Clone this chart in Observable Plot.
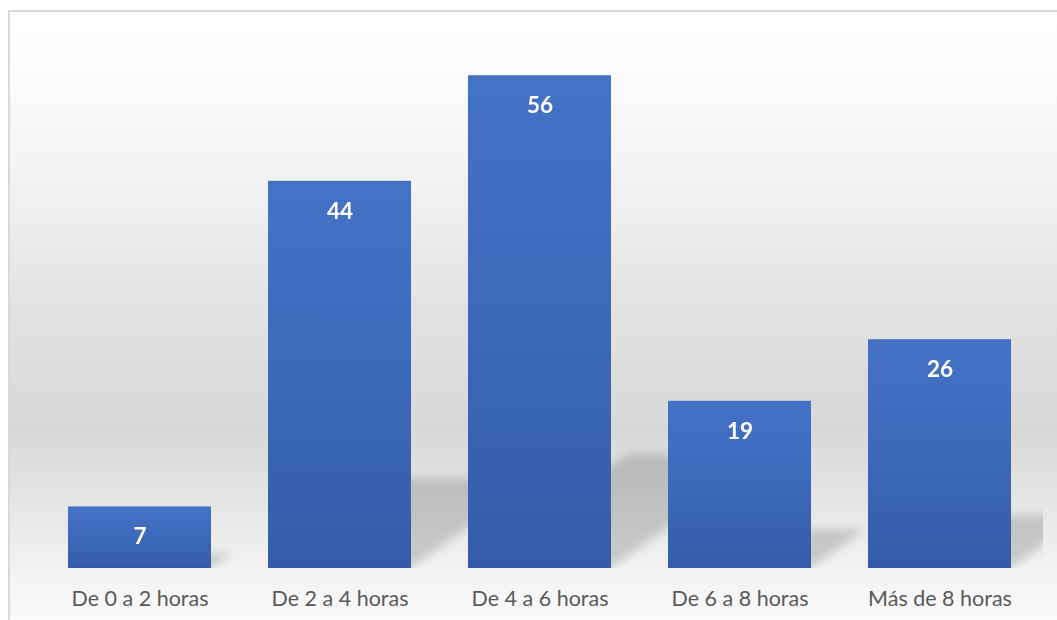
<!DOCTYPE html>
<html>
<head>
<meta charset="utf-8">
<script src="https://cdn.jsdelivr.net/npm/d3@7"></script>
<script src="https://cdn.jsdelivr.net/npm/@observablehq/plot@0.6"></script>
<style>
  html, body { margin: 0; padding: 0; background: #fff; overflow: hidden; }
</style>
</head>
<body>
<div id="chart"></div>
<script>
// Hours per day — number of answers per range
const categories = ["De 0 a 2 horas", "De 2 a 4 horas", "De 4 a 6 horas", "De 6 a 8 horas", "Más de 8 horas"];
const values = [7, 44, 56, 19, 26];

const data = categories.map((category, i) => ({category, value: values[i]}));

const W = 1057, H = 620;

const chart = Plot.plot({
  width: W,
  height: H,
  marginLeft: 38,
  marginRight: 16,
  marginTop: 40,
  marginBottom: 52,
  style: {
    fontFamily: "Lato, 'Open Sans', sans-serif",
    fontSize: "21.5px",
    color: "#595959",
    background: "transparent"
  },
  x: {domain: categories, paddingInner: 0.287, paddingOuter: 0.1435, tickSize: 0, tickPadding: 22, label: null},
  y: {domain: [0, 60], axis: null},
  marks: [
    // soft cast shadow behind each column (skewed below)
    Plot.barY(data, {x: "category", y: "value", fill: "#000", fillOpacity: 0.16}),
    Plot.barY(data, {x: "category", y: "value", fill: "url(#barFill)"}),
    Plot.text(data, {
      x: "category", y: "value", text: d => String(d.value),
      dy: 30, fill: "#fff", fontWeight: "bold", fontSize: 22.5
    })
  ]
});

document.getElementById("chart").appendChild(chart);

const svgNode = chart.tagName.toLowerCase() === "svg" ? chart : chart.querySelector("svg");
const svg = d3.select(svgNode);
const y0 = chart.scale("y").range[0];
const yTop = chart.scale("y").range[1];
const [xL, xR] = chart.scale("x").range;

const defs = svg.insert("defs", ":first-child");

// column fill: lighter blue at the top, deeper at the base
const bar = defs.append("linearGradient").attr("id", "barFill")
  .attr("x1", 0).attr("y1", 0).attr("x2", 0).attr("y2", 1);
[[0, "#4472c4"], [0.5, "#3d69bb"], [1, "#345ca8"]].forEach(([o, c]) =>
  bar.append("stop").attr("offset", o).attr("stop-color", c));

// background: white at the top, grey band low down, fading to white under the labels
const bg = defs.append("linearGradient").attr("id", "bgFill")
  .attr("gradientUnits", "userSpaceOnUse")
  .attr("x1", 0).attr("y1", 10).attr("x2", 0).attr("y2", H);
[[0, "#ffffff"], [0.082, "#fdfdfd"], [0.311, "#f0f0f0"], [0.475, "#e3e3e3"],
 [0.689, "#d8d8d8"], [0.803, "#e5e5e5"], [0.918, "#f2f2f2"], [1, "#fafafa"]]
  .forEach(([o, c]) => bg.append("stop").attr("offset", o).attr("stop-color", c));

const blur = defs.append("filter").attr("id", "shadowBlur")
  .attr("x", "-50%").attr("y", "-50%").attr("width", "200%").attr("height", "200%");
blur.append("feGaussianBlur").attr("stdDeviation", 5);

defs.append("clipPath").attr("id", "plotClip")
  .append("rect").attr("x", xL).attr("y", yTop).attr("width", xR - xL + 2).attr("height", y0 - yTop);

// chart area: gradient fill and light frame, beneath every mark
const after = defs.node().nextSibling;
const bgRect = document.createElementNS("http://www.w3.org/2000/svg", "rect");
svgNode.insertBefore(bgRect, after);
d3.select(bgRect)
  .attr("x", 9).attr("y", 11).attr("width", W).attr("height", H)
  .attr("fill", "url(#bgFill)").attr("stroke", "#d9d9d9").attr("stroke-width", 2);

// the first group of rects is the shadow copy of the columns
const barGroups = svg.selectAll("g").filter(function() {
  return this.querySelector(":scope > rect") !== null;
}).nodes();
const shadowNode = barGroups[0];
if (shadowNode) {
  const wrap = document.createElementNS("http://www.w3.org/2000/svg", "g");
  shadowNode.parentNode.insertBefore(wrap, shadowNode);
  wrap.setAttribute("clip-path", "url(#plotClip)");
  wrap.appendChild(shadowNode);
  shadowNode.setAttribute("filter", "url(#shadowBlur)");
  // squash each copy toward the baseline and lean it up to the right
  const s = 0.23, k = 1.4;
  d3.select(shadowNode).selectAll("rect")
    .attr("transform", `matrix(1,0,${-k * s},${s},${k * s * y0},${y0 * (1 - s)})`);
}
</script>
</body>
</html>
